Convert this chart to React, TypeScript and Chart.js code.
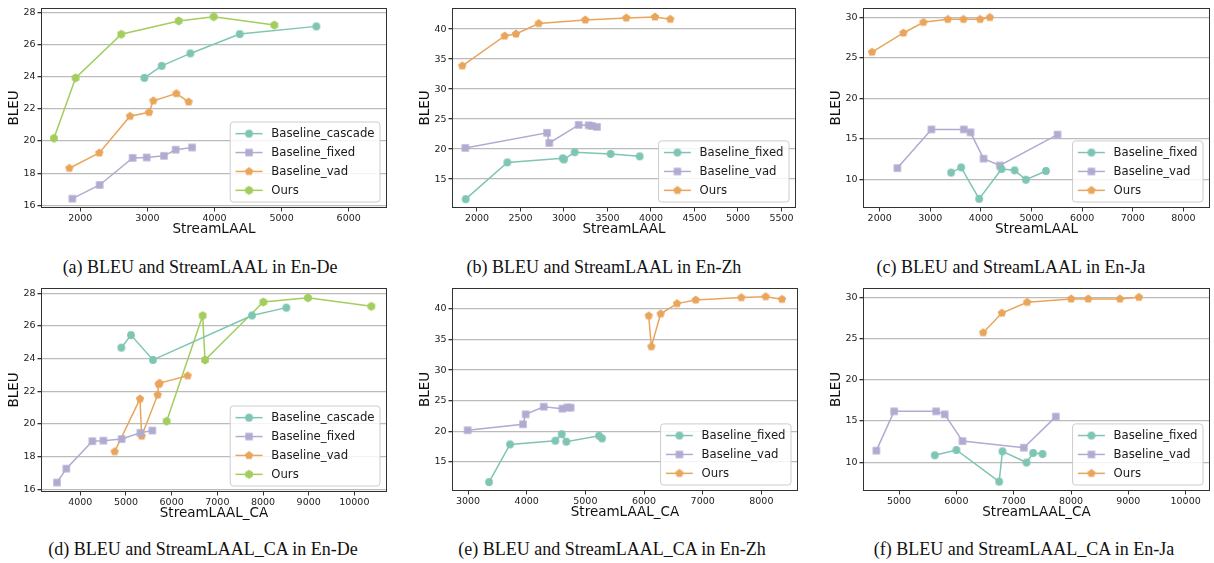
import React, { useEffect, useRef } from "react";
import { Chart, registerables } from "chart.js";
Chart.register(...registerables);

// ---------- data ----------
// (a) En-De, StreamLAAL
const deCascadeLAAL = [2954, 3213, 3640, 4376, 5518];
const deCascadeBLEU = [23.92, 24.67, 25.44, 26.64, 27.12];
const deFixedLAAL = [1881, 2288, 2780, 2989, 3247, 3421, 3665];
const deFixedBLEU = [16.42, 17.27, 18.95, 18.98, 19.08, 19.46, 19.6];
const deVadLAAL = [1836, 2283, 2740, 3024, 3088, 3431, 3615];
const deVadBLEU = [18.31, 19.26, 21.54, 21.78, 22.5, 22.95, 22.43];
const deOursLAAL = [1607, 1930, 2611, 3466, 3988, 4892];
const deOursBLEU = [20.17, 23.92, 26.63, 27.46, 27.72, 27.2];

// (d) En-De, StreamLAAL_CA
const deCascadeCA = [4898, 5109, 5591, 7759, 8511];
const deCascadeCABLEU = [24.67, 25.44, 23.92, 26.64, 27.12];
const deFixedCA = [3489, 3693, 4263, 4504, 4905, 5314, 5577];
const deFixedCABLEU = [16.42, 17.27, 18.95, 18.98, 19.08, 19.46, 19.6];
const deVadCA = [4752, 5307, 5343, 5693, 5715, 5737, 6350];
const deVadCABLEU = [18.31, 21.54, 19.26, 21.78, 22.43, 22.5, 22.95];
const deOursCA = [5890, 6679, 6730, 8007, 8985, 10372];
const deOursCABLEU = [20.17, 26.63, 23.92, 27.46, 27.72, 27.2];

// (b) En-Zh, StreamLAAL
const zhFixedLAAL = [1870, 2349, 2985, 3000, 3123, 3536, 3870];
const zhFixedBLEU = [11.66, 17.79, 18.46, 18.28, 19.48, 19.2, 18.8];
const zhVadLAAL = [1866, 2805, 2831, 3169, 3284, 3322, 3379];
const zhVadBLEU = [20.2, 22.71, 21.02, 24.03, 23.97, 23.86, 23.7];
const zhOursLAAL = [1831, 2318, 2448, 2709, 3245, 3716, 4046, 4222];
const zhOursBLEU = [33.87, 38.85, 39.18, 40.93, 41.53, 41.86, 42.02, 41.64];

// (e) En-Zh, StreamLAAL_CA
const zhFixedCA = [3358, 3716, 4489, 4597, 4676, 5233, 5284];
const zhFixedCABLEU = [11.7, 17.86, 18.46, 19.54, 18.3, 19.27, 18.84];
const zhVadCA = [2994, 3937, 3983, 4290, 4608, 4693, 4750];
const zhVadCABLEU = [20.18, 21.16, 22.78, 24.02, 23.7, 23.91, 23.86];
const zhOursCA = [6080, 6125, 6284, 6563, 6881, 7659, 8074, 8352];
const zhOursCABLEU = [38.87, 33.84, 39.19, 40.86, 41.46, 41.84, 42.0, 41.57];

// (c) En-Ja, StreamLAAL
const jaFixedLAAL = [3411, 3609, 3965, 4407, 4665, 4889, 5285];
const jaFixedBLEU = [10.84, 11.48, 7.6, 11.28, 11.12, 9.96, 11.04];
const jaVadLAAL = [2349, 3022, 3662, 3794, 4051, 4374, 5514];
const jaVadBLEU = [11.4, 16.17, 16.17, 15.81, 12.56, 11.72, 15.53];
const jaOursLAAL = [1848, 2468, 2864, 3345, 3655, 3985, 4176];
const jaOursBLEU = [25.71, 28.08, 29.4, 29.76, 29.76, 29.76, 30.0];

// (f) En-Ja, StreamLAAL_CA
const jaFixedCA = [5623, 6001, 6746, 6804, 7224, 7340, 7503];
const jaFixedCABLEU = [10.84, 11.48, 7.64, 11.32, 9.96, 11.12, 11.0];
const jaVadCA = [4604, 4913, 5646, 5797, 6106, 7177, 7736];
const jaVadCABLEU = [11.4, 16.17, 16.17, 15.81, 12.56, 11.76, 15.53];
const jaOursCA = [6467, 6793, 7235, 8003, 8300, 8853, 9185];
const jaOursCABLEU = [25.71, 28.08, 29.4, 29.8, 29.8, 29.8, 30.0];

// tick labels
const ticksDeLAAL = [2000, 3000, 4000, 5000, 6000];
const ticksDeCA = [4000, 5000, 6000, 7000, 8000, 9000, 10000];
const ticksZhLAAL = [2000, 2500, 3000, 3500, 4000, 4500, 5000, 5500];
const ticksZhCA = [3000, 4000, 5000, 6000, 7000, 8000];
const ticksJaLAAL = [2000, 3000, 4000, 5000, 6000, 7000, 8000];
const ticksJaCA = [5000, 6000, 7000, 8000, 9000, 10000];
const ticksBleuDe = [16, 18, 20, 22, 24, 26, 28];
const ticksBleuZh = [15, 20, 25, 30, 35, 40];
const ticksBleuJa = [10, 15, 20, 25, 30];

const labelsDe = ["Baseline_cascade", "Baseline_fixed", "Baseline_vad", "Ours"];
const labelsZhJa = ["Baseline_fixed", "Baseline_vad", "Ours"];

const captions = [
  "(a) BLEU and StreamLAAL in En-De",
  "(b) BLEU and StreamLAAL in En-Zh",
  "(c) BLEU and StreamLAAL in En-Ja",
  "(d) BLEU and StreamLAAL_CA in En-De",
  "(e) BLEU and StreamLAAL_CA in En-Zh",
  "(f) BLEU and StreamLAAL_CA in En-Ja",
];

// ---------- styles ----------
const COLORS = ["#7ec5b4", "#b0abd0", "#eaa55c", "#a3cd5d"];
const SHAPES = ["circle", "square", "pentagon", "hexagon"];
const SANS = '"DejaVu Sans", sans-serif';
const GRID = "rgba(170,170,170,0.8)";
const AXIS = "#333333";

function makeMarker(shape: string, color: string) {
  const c = document.createElement("canvas");
  const S = 12;
  c.width = S;
  c.height = S;
  const g = c.getContext("2d")!;
  g.fillStyle = color;
  g.beginPath();
  const cx = S / 2, cy = S / 2;
  if (shape === "circle") g.arc(cx, cy, 3.9, 0, Math.PI * 2);
  else if (shape === "square") g.rect(cx - 3.7, cy - 3.7, 7.4, 7.4);
  else {
    const n = shape === "pentagon" ? 5 : 6;
    const r = 4.4;
    for (let i = 0; i < n; i++) {
      const a = -Math.PI / 2 + (i * 2 * Math.PI) / n;
      const px = cx + r * Math.cos(a), py = cy + r * Math.sin(a);
      if (i === 0) g.moveTo(px, py);
      else g.lineTo(px, py);
    }
  }
  g.closePath();
  g.fill();
  return c;
}

type Area = { l: number; t: number; r: number; b: number };
type PanelProps = {
  left: number; top: number; width: number; height: number; area: Area;
  xs: number[][]; ys: number[][]; labels: string[];
  xRange: [number, number]; yRange: [number, number];
  xTicks: number[]; yTicks: number[]; xTitle: string;
};

const frameLegendPlugin = {
  id: "frameLegend",
  afterDraw(chart: any) {
    const { ctx, chartArea } = chart;
    const { left, top, right, bottom } = chartArea;
    ctx.save();
    ctx.strokeStyle = AXIS;
    ctx.lineWidth = 1;
    ctx.strokeRect(Math.round(left) + 0.5, Math.round(top) + 0.5, Math.round(right - left) - 1, Math.round(bottom - top) - 1);

    const ds = chart.data.datasets;
    ctx.font = `11.7px ${SANS}`;
    let maxW = 0;
    ds.forEach((d: any) => { maxW = Math.max(maxW, ctx.measureText(d.label).width); });
    const rowH = 18.9;
    const bw = 5.3 + 27 + 8.7 + maxW + 5.5;
    const bh = ds.length * rowH + 4.4;
    const bx = right - 7 - bw;
    const by = bottom - 6 - bh;
    ctx.beginPath();
    ctx.roundRect(bx, by, bw, bh, 3);
    ctx.fillStyle = "rgba(255,255,255,0.85)";
    ctx.fill();
    ctx.strokeStyle = "#cccccc";
    ctx.lineWidth = 1;
    ctx.stroke();
    ds.forEach((d: any, i: number) => {
      const cy = by + 2.2 + rowH / 2 + i * rowH;
      ctx.beginPath();
      ctx.strokeStyle = d.borderColor;
      ctx.lineWidth = 1.5;
      ctx.moveTo(bx + 5.3, cy);
      ctx.lineTo(bx + 32.3, cy);
      ctx.stroke();
      const m = d.pointStyle as HTMLCanvasElement;
      ctx.drawImage(m, bx + 18.8 - m.width / 2, cy - m.height / 2);
      ctx.fillStyle = "#1a1a1a";
      ctx.textBaseline = "middle";
      ctx.textAlign = "left";
      ctx.fillText(d.label, bx + 41, cy + 0.5);
    });
    ctx.restore();
  },
};

function Panel(p: PanelProps) {
  const ref = useRef<HTMLCanvasElement>(null);
  useEffect(() => {
    const datasets = p.labels.map((label, i) => {
      const color = COLORS[i];
      return {
        label,
        data: p.xs[i].map((x, j) => ({ x, y: p.ys[i][j] })),
        showLine: true,
        borderColor: color,
        backgroundColor: color,
        borderWidth: 1.5,
        pointStyle: makeMarker(SHAPES[i], color),
        pointRadius: 4,
        pointHoverRadius: 4,
      };
    });
    const { area, width: W, height: H } = p;
    const titleFont = { family: SANS, size: 13.5, lineHeight: 1.2 };
    const tickFont = { family: SANS, size: 9.5 };
    const chart = new Chart(ref.current!, {
      type: "scatter",
      data: { datasets },
      plugins: [frameLegendPlugin],
      options: {
        animation: false,
        responsive: false,
        maintainAspectRatio: false,
        events: [],
        layout: { padding: { left: 0, top: area.t, right: W - area.r, bottom: 0 }, autoPadding: false },
        plugins: { legend: { display: false }, tooltip: { enabled: false } },
        scales: {
          x: {
            type: "linear",
            min: p.xRange[0],
            max: p.xRange[1],
            afterBuildTicks: (s: any) => { s.ticks = p.xTicks.map((v) => ({ value: v })); },
            afterFit: (s: any) => { s.height = H - area.b; },
            grid: { drawOnChartArea: false, drawTicks: true, tickLength: 3.5, tickColor: AXIS, lineWidth: 1 },
            border: { display: false },
            ticks: { font: tickFont, color: "#222", padding: 1.5, maxRotation: 0, autoSkip: false, callback: (v: any) => String(v) },
            title: { display: true, text: p.xTitle, font: titleFont, color: "#111", padding: { top: 0, bottom: H - area.b - 21.5 - 8.1 } },
          },
          y: {
            type: "linear",
            min: p.yRange[0],
            max: p.yRange[1],
            afterBuildTicks: (s: any) => { s.ticks = p.yTicks.map((v) => ({ value: v })); },
            afterFit: (s: any) => { s.width = area.l; },
            grid: { color: GRID, lineWidth: 1.3, drawTicks: true, tickLength: 3.5, tickColor: AXIS },
            border: { display: false },
            ticks: { font: tickFont, color: "#222", padding: 2, autoSkip: false, callback: (v: any) => String(v) },
            title: { display: true, text: "BLEU", font: titleFont, color: "#111", padding: { top: area.l - 26.5 - 8.1, bottom: 0 } },
          },
        },
      } as any,
    });
    return () => chart.destroy();
  }, []);
  return (
    <canvas
      ref={ref}
      width={p.width}
      height={p.height}
      style={{ position: "absolute", left: p.left, top: p.top, width: p.width, height: p.height, display: "block" }}
    />
  );
}

const captionCenters = [
  { x: 200, y: 266.5 }, { x: 604, y: 266.5 }, { x: 1011, y: 266.5 },
  { x: 203, y: 548.5 }, { x: 612, y: 548.5 }, { x: 1024, y: 548.5 },
];

export default function App() {
  return (
    <div style={{ position: "absolute", left: 0, top: 0, width: 1214, height: 563, background: "#fff", overflow: "hidden" }}>
      <Panel left={0} top={0} width={400} height={245} area={{ l: 41, t: 3, r: 387, b: 208 }}
        xs={[deCascadeLAAL, deFixedLAAL, deVadLAAL, deOursLAAL]} ys={[deCascadeBLEU, deFixedBLEU, deVadBLEU, deOursBLEU]}
        labels={labelsDe} xRange={[1414, 6571]} yRange={[15.84, 28.28]} xTicks={ticksDeLAAL} yTicks={ticksBleuDe} xTitle="StreamLAAL" />
      <Panel left={400} top={0} width={410} height={245} area={{ l: 52, t: 5, r: 396, b: 208 }}
        xs={[zhFixedLAAL, zhVadLAAL, zhOursLAAL]} ys={[zhFixedBLEU, zhVadBLEU, zhOursBLEU]}
        labels={labelsZhJa} xRange={[1713, 5667]} yRange={[10.19, 43.56]} xTicks={ticksZhLAAL} yTicks={ticksBleuZh} xTitle="StreamLAAL" />
      <Panel left={810} top={0} width={404} height={245} area={{ l: 53, t: 3, r: 400, b: 208 }}
        xs={[jaFixedLAAL, jaVadLAAL, jaOursLAAL]} ys={[jaFixedBLEU, jaVadBLEU, jaOursBLEU]}
        labels={labelsZhJa} xRange={[1670, 8526]} yRange={[6.47, 31.2]} xTicks={ticksJaLAAL} yTicks={ticksBleuJa} xTitle="StreamLAAL" />
      <Panel left={0} top={280} width={400} height={245} area={{ l: 41, t: 5, r: 387, b: 212 }}
        xs={[deCascadeCA, deFixedCA, deVadCA, deOursCA]} ys={[deCascadeCABLEU, deFixedCABLEU, deVadCABLEU, deOursCABLEU]}
        labels={labelsDe} xRange={[3139, 10715]} yRange={[15.84, 28.34]} xTicks={ticksDeCA} yTicks={ticksBleuDe} xTitle="StreamLAAL_CA" />
      <Panel left={400} top={280} width={410} height={245} area={{ l: 52, t: 6, r: 398, b: 211 }}
        xs={[zhFixedCA, zhVadCA, zhOursCA]} ys={[zhFixedCABLEU, zhVadCABLEU, zhOursCABLEU]}
        labels={labelsZhJa} xRange={[2727, 8625]} yRange={[10.25, 43.46]} xTicks={ticksZhCA} yTicks={ticksBleuZh} xTitle="StreamLAAL_CA" />
      <Panel left={810} top={280} width={404} height={245} area={{ l: 53, t: 6, r: 400, b: 211 }}
        xs={[jaFixedCA, jaVadCA, jaOursCA]} ys={[jaFixedCABLEU, jaVadCABLEU, jaOursCABLEU]}
        labels={labelsZhJa} xRange={[4371, 10425]} yRange={[6.51, 31.16]} xTicks={ticksJaCA} yTicks={ticksBleuJa} xTitle="StreamLAAL_CA" />
      {captions.map((c, i) => (
        <div key={i} style={{
          position: "absolute", left: captionCenters[i].x - 200, top: captionCenters[i].y - 11, width: 400,
          textAlign: "center", lineHeight: "22px", fontSize: 18, color: "#111",
          fontFamily: '"Liberation Serif", "Times New Roman", serif', whiteSpace: "nowrap",
        }}>{c}</div>
      ))}
    </div>
  );
}
